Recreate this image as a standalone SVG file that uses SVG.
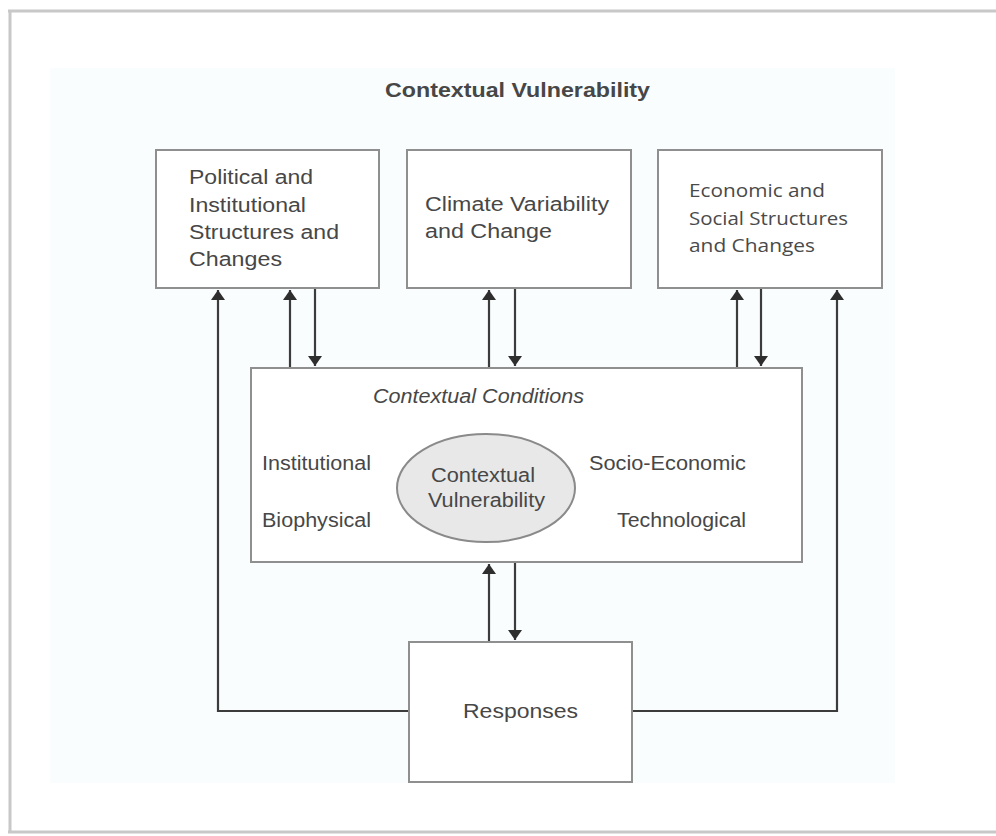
<svg xmlns="http://www.w3.org/2000/svg" width="996" height="836" viewBox="0 0 996 836">
<defs>
<style>
.box{fill:#ffffff;stroke:#8f8f8f;stroke-width:2}
.t{font-family:"Liberation Sans",Arial,sans-serif;fill:#474747;font-size:20px}
.m{font-family:"Open Sans","Noto Sans",sans-serif;fill:#4a4a4a;font-size:18px}
.c{fill:none;stroke:#3c3c3c;stroke-width:2.2}
</style>
<marker id="ah" markerUnits="userSpaceOnUse" markerWidth="16" markerHeight="16" refX="10" refY="8" orient="auto">
<path d="M0,1 L10,8 L0,15 Z" fill="#2e2e2e"/>
</marker>
</defs>
<rect x="0" y="0" width="996" height="836" fill="#ffffff"/>
<rect x="50" y="68" width="845" height="715" fill="#fafdfd"/>
<g id="frame" fill="none" stroke="#c8c8c8">
<line x1="8" y1="11" x2="996" y2="11" stroke-width="3"/>
<line x1="10" y1="11" x2="10" y2="832" stroke-width="3"/>
<line x1="8" y1="832" x2="996" y2="832" stroke-width="3"/>
</g>
<g id="title">
<text class="t" x="385" y="97" font-weight="bold" fill="#3a3a3a" textLength="265" lengthAdjust="spacingAndGlyphs">Contextual Vulnerability</text>
</g>
<g id="connectors">
<path class="c" d="M409,711 H218 V290" marker-end="url(#ah)"/>
<path class="c" d="M632,711 H837 V290" marker-end="url(#ah)"/>
<line class="c" x1="290" y1="368" x2="290" y2="290" marker-end="url(#ah)"/>
<line class="c" x1="315" y1="289" x2="315" y2="366" marker-end="url(#ah)"/>
<line class="c" x1="489" y1="368" x2="489" y2="290" marker-end="url(#ah)"/>
<line class="c" x1="515" y1="289" x2="515" y2="366" marker-end="url(#ah)"/>
<line class="c" x1="737" y1="368" x2="737" y2="290" marker-end="url(#ah)"/>
<line class="c" x1="761" y1="289" x2="761" y2="366" marker-end="url(#ah)"/>
<line class="c" x1="489" y1="642" x2="489" y2="564" marker-end="url(#ah)"/>
<line class="c" x1="515" y1="563" x2="515" y2="640" marker-end="url(#ah)"/>
</g>
<g id="political">
<rect class="box" x="156" y="150" width="223" height="138"/>
<text class="t" x="189" y="184" textLength="124" lengthAdjust="spacingAndGlyphs">Political and</text>
<text class="t" x="189" y="212" textLength="117" lengthAdjust="spacingAndGlyphs">Institutional</text>
<text class="t" x="189" y="239" textLength="150" lengthAdjust="spacingAndGlyphs">Structures and</text>
<text class="t" x="189" y="266" textLength="93" lengthAdjust="spacingAndGlyphs">Changes</text>
</g>
<g id="climate">
<rect class="box" x="407" y="150" width="224" height="138"/>
<text class="t" x="425" y="211" textLength="184" lengthAdjust="spacingAndGlyphs">Climate Variability</text>
<text class="t" x="425" y="238" textLength="127" lengthAdjust="spacingAndGlyphs">and Change</text>
</g>
<g id="economic">
<rect class="box" x="658" y="150" width="224" height="138"/>
<text class="m" x="689" y="197" textLength="136" lengthAdjust="spacingAndGlyphs">Economic and</text>
<text class="m" x="689" y="225" textLength="159" lengthAdjust="spacingAndGlyphs">Social Structures</text>
<text class="m" x="689" y="252" textLength="126" lengthAdjust="spacingAndGlyphs">and Changes</text>
</g>
<g id="conditions">
<rect class="box" x="251" y="368" width="551" height="194"/>
<text class="t" x="373" y="403" font-style="italic" textLength="211" lengthAdjust="spacingAndGlyphs">Contextual Conditions</text>
<text class="t" x="262" y="470" textLength="109" lengthAdjust="spacingAndGlyphs">Institutional</text>
<text class="t" x="262" y="527" textLength="109" lengthAdjust="spacingAndGlyphs">Biophysical</text>
<text class="t" x="589" y="470" textLength="157" lengthAdjust="spacingAndGlyphs">Socio-Economic</text>
<text class="t" x="617" y="527" textLength="129" lengthAdjust="spacingAndGlyphs">Technological</text>
</g>
<g id="vulnerability">
<ellipse cx="486" cy="488" rx="89" ry="54" fill="#e8e8e8" stroke="#8a8a8a" stroke-width="2"/>
<text class="t" x="431" y="482" textLength="104" lengthAdjust="spacingAndGlyphs">Contextual</text>
<text class="t" x="428" y="507" textLength="117" lengthAdjust="spacingAndGlyphs">Vulnerability</text>
</g>
<g id="responses">
<rect class="box" x="409" y="642" width="223" height="140"/>
<text class="t" x="463" y="718" textLength="115" lengthAdjust="spacingAndGlyphs">Responses</text>
</g>
</svg>
